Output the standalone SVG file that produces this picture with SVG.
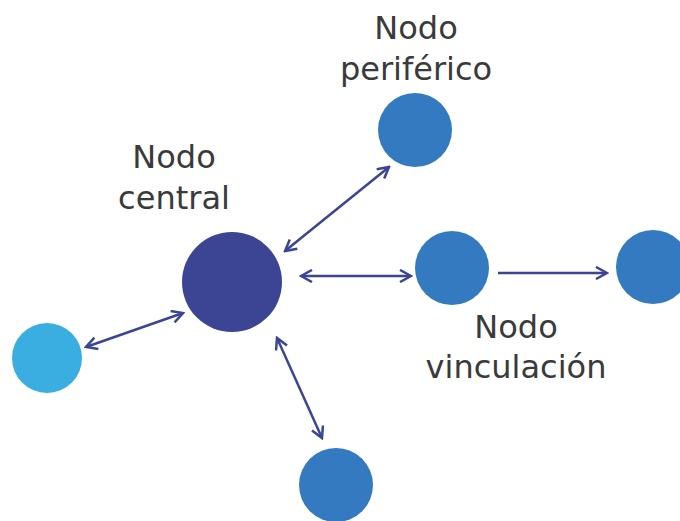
<svg xmlns="http://www.w3.org/2000/svg" width="680" height="521" viewBox="0 0 680 521">
<defs>
<style>
.lbl{font-family:"DejaVu Sans","Verdana",sans-serif;font-size:32px;fill:#3a3a3a;text-anchor:middle}
.c{stroke:#3B4594;stroke-width:2.5;fill:none}
</style>
<marker id="ah" viewBox="0 0 14 14" refX="12" refY="7" markerWidth="14" markerHeight="14" markerUnits="userSpaceOnUse" orient="auto-start-reverse">
<path d="M1,1 L12,7 L1,13" fill="none" stroke="#3B4594" stroke-width="2.5"/>
</marker>
</defs>
<rect width="680" height="521" fill="#fff"/>
<g id="connectors">
<line class="c" x1="285" y1="251" x2="389" y2="167" marker-start="url(#ah)" marker-end="url(#ah)"/>
<line class="c" x1="301" y1="276" x2="411" y2="276" marker-start="url(#ah)" marker-end="url(#ah)"/>
<line class="c" x1="86" y1="347" x2="183" y2="313" marker-start="url(#ah)" marker-end="url(#ah)"/>
<line class="c" x1="277" y1="338" x2="322" y2="438" marker-start="url(#ah)" marker-end="url(#ah)"/>
<line class="c" x1="498" y1="273" x2="607" y2="273" marker-end="url(#ah)"/>
</g>
<g id="central"><circle cx="232" cy="282" r="50" fill="#3B4594"/><text class="lbl" x="174" y="168">Nodo</text><text class="lbl" x="174" y="209">central</text></g>
<g id="periferico"><circle cx="415" cy="130" r="37" fill="#337AC0"/><text class="lbl" x="416" y="39">Nodo</text><text class="lbl" x="416" y="80">periférico</text></g>
<g id="vinculacion"><circle cx="452" cy="268" r="37" fill="#337AC0"/><text class="lbl" x="516" y="338">Nodo</text><text class="lbl" x="516" y="378">vinculación</text></g>
<g id="derecha"><circle cx="653" cy="267" r="37" fill="#337AC0"/></g>
<g id="izquierda"><circle cx="47" cy="358" r="35" fill="#3AAEE0"/></g>
<g id="inferior"><circle cx="336" cy="485" r="37" fill="#337AC0"/></g>
</svg>
